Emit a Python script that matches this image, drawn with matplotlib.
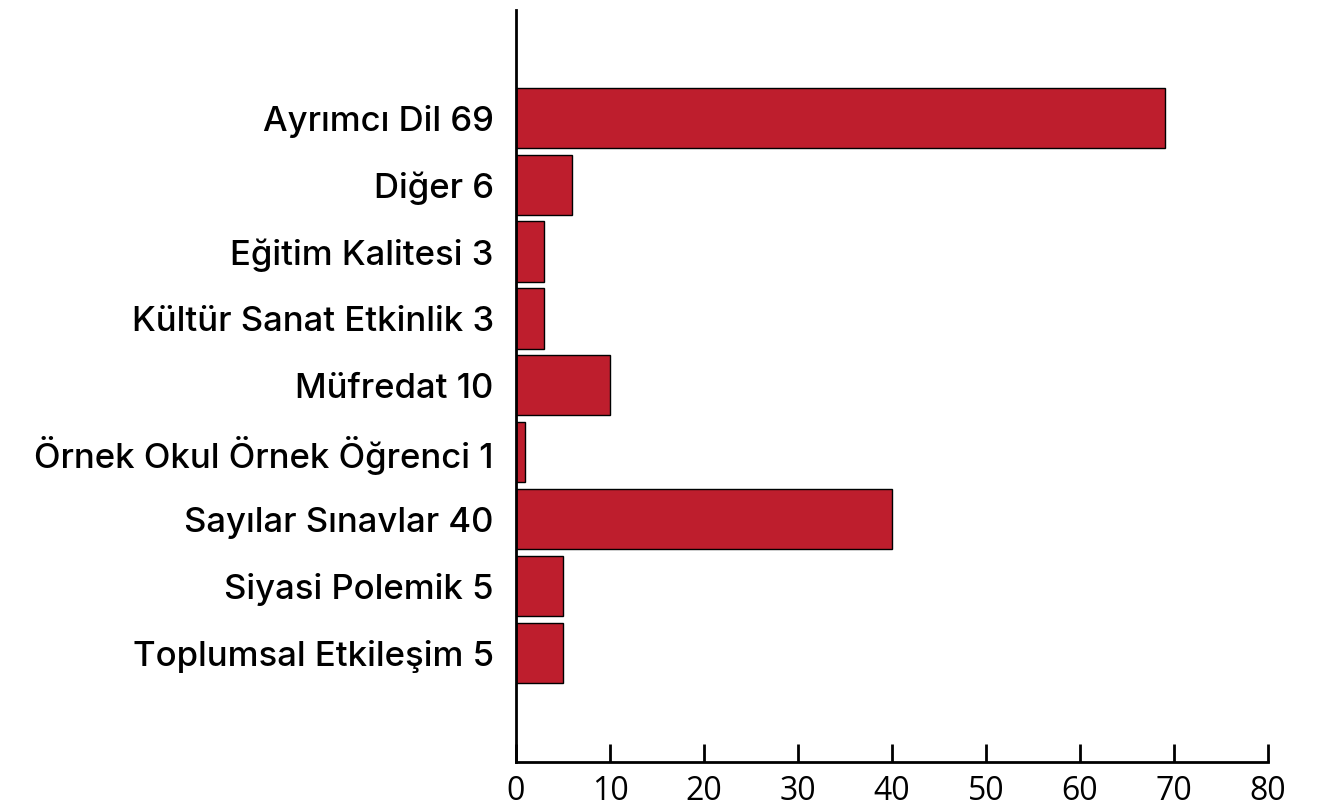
import matplotlib.pyplot as plt

categories = ["Ayrımcı Dil", "Diğer", "Eğitim Kalitesi", "Kültür Sanat Etkinlik",
              "Müfredat", "Örnek Okul Örnek Öğrenci", "Sayılar Sınavlar",
              "Siyasi Polemik", "Toplumsal Etkileşim"]
values = [69, 6, 3, 3, 10, 1, 40, 5, 5]
xticks = [0, 10, 20, 30, 40, 50, 60, 70, 80]

fig = plt.figure(figsize=(13.41, 8.07), dpi=100)
ax = fig.add_axes([516 / 1341, 45 / 807, 752 / 1341, 752 / 807])

pos = list(range(len(categories)))
ax.barh(pos, values, height=0.9, color="#be1e2d", edgecolor="black", linewidth=1)

ax.set_xlim(0, 80)
ax.set_ylim(8 + 1.63, -1.61)
ax.set_yticks(pos)
ax.set_yticklabels([f"{c} {v}" for c, v in zip(categories, values)],
                   fontsize=25, family="Inter", fontweight="medium")
ax.set_xticks(xticks)
ax.set_xticklabels([str(t) for t in xticks], fontsize=23, family="Open Sans")

for s in ["top", "right"]:
    ax.spines[s].set_visible(False)
ax.spines["left"].set_linewidth(2)
ax.spines["bottom"].set_linewidth(2)
ax.tick_params(axis="y", length=0, pad=16)
ax.tick_params(axis="x", direction="in", length=13, width=2, pad=9)

fig.savefig("out.png", dpi=100)
